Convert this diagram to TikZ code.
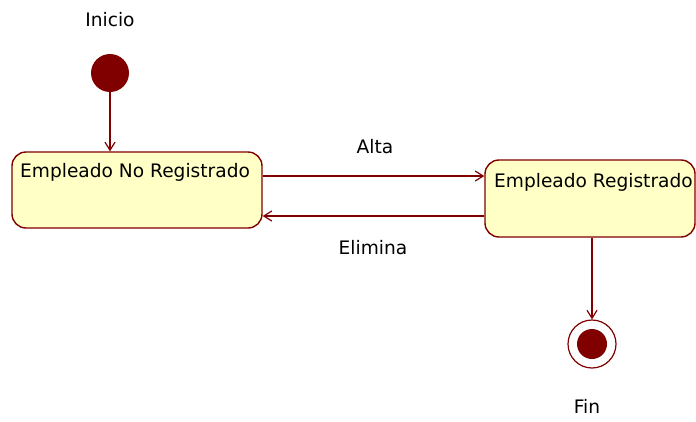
\documentclass[tikz,border=0pt]{standalone}
\usepackage{fontspec}
\setmainfont{DejaVu Sans}
\usetikzlibrary{arrows.meta}
\definecolor{umlred}{HTML}{800000}
\definecolor{umlfill}{HTML}{FFFFC6}
\begin{document}
\begin{tikzpicture}[x=1pt,y=-1pt,
  lbl/.style={font=\fontsize{18.6}{22}\selectfont, text=black, inner sep=0pt},
  statebox/.style={draw=umlred, line width=1.4pt, fill=umlfill, rounded corners=14pt},
  tr/.style={draw=umlred, line width=1.2pt, -{Straight Barb[length=8pt,width=10pt]}}]
\useasboundingbox (0,0) rectangle (696,421);
% initial
\node[circle, fill=umlred, minimum size=38pt, inner sep=0pt] (ini) at (110,73) {};
\node[lbl] (iniL) at (110,20) {Inicio};
% states
\node[statebox, minimum width=250pt, minimum height=76pt, inner sep=0pt] (s1) at (137,190) {};
\node[lbl, anchor=west] (s1t) at (20,172) {Empleado No Registrado};
\node[statebox, minimum width=210pt, minimum height=77pt, inner sep=0pt] (s2) at (590,198.5) {};
\node[lbl, anchor=west] (s2t) at (494,182) {Empleado Registrado};
% final
\node[circle, draw=umlred, line width=1.2pt, fill=white, minimum size=48pt, inner sep=0pt] (fin) at (592,344) {};
\node[circle, fill=umlred, minimum size=30pt, inner sep=0pt] (finI) at (fin) {};
\node[lbl] (finL) at (587,406) {Fin};
% transitions
\draw[tr] (ini.south) -- (s1.north -| ini.south);
\coordinate (a1) at ([yshift=14pt]s1.east);
\coordinate (a2) at ([yshift=-26pt]s1.east);
\draw[tr] (a1) -- (a1 -| s2.west);
\draw[tr] (a2 -| s2.west) -- (a2);
\node[lbl] (alta) at (375,147) {Alta};
\node[lbl] (elim) at (373,248) {Elimina};
\draw[tr] (s2.south -| fin.north) -- (fin.north);
\end{tikzpicture}
\end{document}
